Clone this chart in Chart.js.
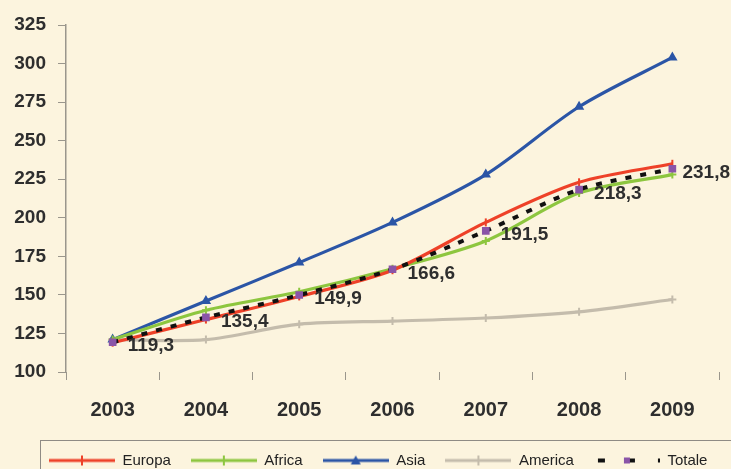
<!DOCTYPE html>
<html>
<head>
<meta charset="utf-8">
<script src="https://cdn.jsdelivr.net/npm/chart.js@4/dist/chart.umd.min.js"></script>
<style>
  html,body{margin:0;padding:0;background:#fcf4de;}
  #wrap{width:731px;height:469px;position:relative;}
</style>
</head>
<body>
<div id="wrap"><canvas id="chart"></canvas></div>
<script>
// --- dati ---
const anni    = ["2003","2004","2005","2006","2007","2008","2009"];
const europa  = [119, 134, 149, 166, 197, 223, 235];
const africa  = [121, 140, 152, 167, 185, 216, 228];
const asia    = [121, 146, 171, 197, 228, 272, 304];
const america = [121, 121, 131, 133, 135, 139, 147];
const totale  = [119.3, 135.4, 149.9, 166.6, 191.5, 218.3, 231.8];
const yTicks  = [100, 325, 25]; // min, max, passo

const COL = {
  europa:"#ee4128", africa:"#8dc63f", asia:"#2b55a6",
  america:"#c4bcac", totale:"#111111", star:"#8a55a8", text:"#2e2e2e", axis:"#9a968c",
};
const FONT = "'Liberation Sans', Arial, sans-serif";

// piccola immagine per la legenda: linea + marcatore
function swatch(color, marker, dashed){
  const c = document.createElement("canvas");
  c.width = 66; c.height = 14;
  const g = c.getContext("2d");
  g.strokeStyle = color; g.lineWidth = dashed ? 4 : 3;
  if(dashed) g.setLineDash([7,23]);
  g.beginPath(); g.moveTo(dashed?4:0,7); g.lineTo(66,7); g.stroke();
  g.setLineDash([]);
  g.lineWidth = 2;
  if(marker==="tri"){
    g.fillStyle = color; g.beginPath(); g.moveTo(33,2); g.lineTo(38,11); g.lineTo(28,11); g.closePath(); g.fill();
  } else if(marker==="star"){
    g.fillStyle = COL.star; g.fillRect(30,4,6,6);
  } else {
    g.beginPath(); g.moveTo(33,2); g.lineTo(33,12); g.stroke();
  }
  return c;
}

const legendBox = {
  id:"legendBox",
  afterLayout(chart){
    const lg = chart.legend;
    lg.left += 29; lg.right += 29;
  },
  afterDraw(chart){
    const lg = chart.legend, ctx = chart.ctx;
    ctx.save();
    ctx.strokeStyle = "#8f8b84"; ctx.lineWidth = 1;
    ctx.strokeRect(40.5, lg.top + 7.5, 720, 60);
    ctx.restore();
  }
};

const totLabels = {
  id:"totLabels",
  afterDatasetsDraw(chart){
    const meta = chart.getDatasetMeta(4), ctx = chart.ctx;
    ctx.save();
    ctx.font = "bold 19px " + FONT;
    ctx.fillStyle = COL.text;
    ctx.textBaseline = "middle";
    meta.data.forEach((pt,i)=>{
      const txt = totale[i].toFixed(1).replace(".",",");
      const w = ctx.measureText(txt).width;
      const x = Math.min(pt.x + 15, chart.width - w - 1);
      ctx.fillText(txt, x, pt.y + 4);
    });
    ctx.restore();
  }
};

const line = (label, data, color, style, order, extra={}) => ({
  label, data, order,
  borderColor:color, backgroundColor:color,
  borderWidth:3.2, tension:.3,
  pointStyle:style, pointRadius:4, pointBorderWidth:2,
  pointBorderColor:color, pointBackgroundColor:color,
  ...extra,
});

new Chart(document.getElementById("chart"), {
  type:"line",
  data:{
    labels:anni,
    datasets:[
      line("Europa",  europa,  COL.europa,  "line", 1, {pointRotation:90}),
      line("Africa",  africa,  COL.africa,  "cross", 2),
      line("Asia",    asia,    COL.asia,    "triangle", 3),
      line("America", america, COL.america, "cross", 4),
      line("Totale",  totale,  COL.totale,  "rect", 0, {
        borderWidth:4, borderDash:[6,9],
        pointBackgroundColor:COL.star, pointBorderColor:COL.star, pointRadius:4,
      }),
    ],
  },
  options:{
    responsive:true, maintainAspectRatio:false, animation:false,
    layout:{ padding:{ top:25, right:12, left:0, bottom:-9 } },
    plugins:{
      tooltip:{enabled:false},
      legend:{
        position:"bottom", align:"start",
        labels:{
          usePointStyle:true, pointStyleWidth:66, boxHeight:14,
          padding:20, color:"#222", font:{family:FONT, size:15},
          generateLabels(chart){
            const marks = ["line","plus","tri","plus","star"];
            return chart.data.datasets.map((d,i)=>({
              text:d.label, datasetIndex:i, fontColor:"#222",
              pointStyle:swatch(i===4?COL.totale:d.borderColor, marks[i], i===4),
              hidden:false, lineWidth:0,
            }));
          }
        }
      }
    },
    scales:{
      x:{
        offset:true,
        grid:{ offset:true, drawOnChartArea:false, drawTicks:true, tickLength:8, color:COL.axis },
        border:{ display:false },
        ticks:{ color:COL.text, padding:18, font:{family:FONT, size:20, weight:"bold"} },
        afterFit(s){ s.height = 61; },
      },
      y:{
        min:yTicks[0], max:yTicks[1],
        ticks:{ stepSize:yTicks[2], color:COL.text, padding:12, font:{family:FONT, size:19, weight:"bold"} },
        grid:{ drawOnChartArea:false, tickLength:8, color:COL.axis },
        border:{ display:true, color:COL.axis, width:1.5 },
        afterFit(s){ s.width = 66; },
      }
    }
  },
  plugins:[legendBox, totLabels],
});
</script>
</body>
</html>
